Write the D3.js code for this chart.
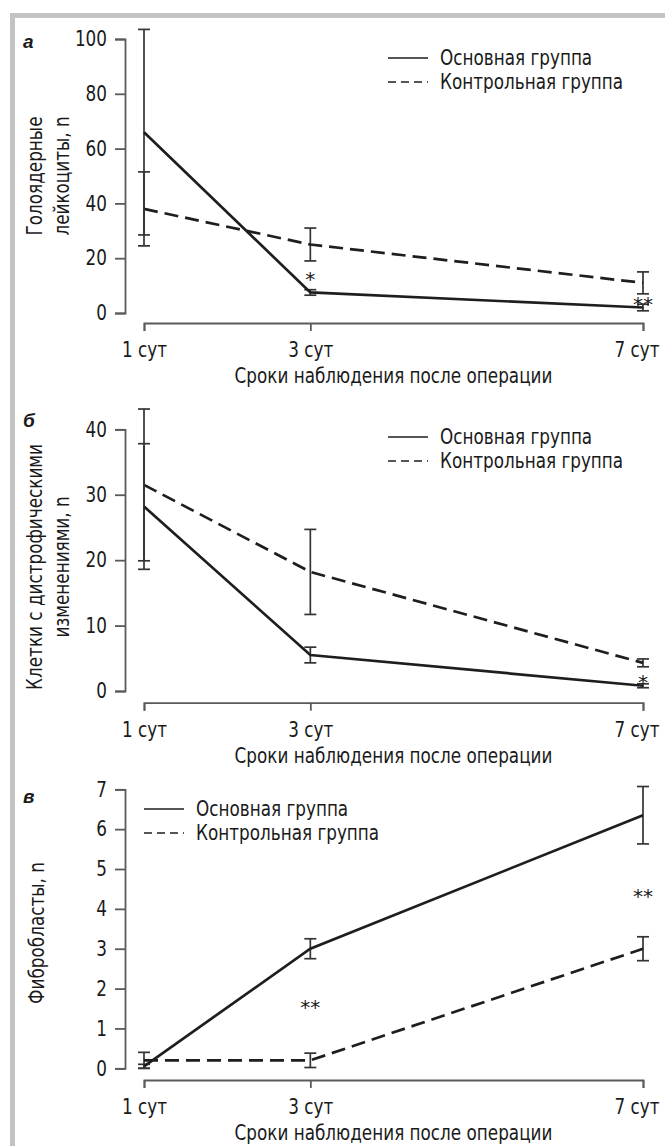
<!DOCTYPE html>
<html>
<head>
<meta charset="utf-8">
<script src="https://cdn.jsdelivr.net/npm/d3@7"></script>
<style>
  body { margin: 0; background: #fff; }
  svg { display: block; }
  text { font-family: 'Liberation Sans Narrow', 'DejaVu Sans Condensed', sans-serif; fill: #1a1a1a; }
</style>
</head>
<body>
<svg id="chart" width="665" height="1146"></svg>
<script>
// shared x categories
const days = [1, 3, 7];
const dayLabels = ['1 сут', '3 сут', '7 сут'];
const xTitle = 'Сроки наблюдения после операции';
const legendLabels = ['Основная группа', 'Контрольная группа'];

// panel а — голоядерные лейкоциты
const leukMain = [66, 7.5, 2];
const leukMainErr = [37.5, 1, 1.2];
const leukCtrl = [38, 25, 11];
const leukCtrlErr = [13.5, 6, 4];
const leukTicks = [0, 20, 40, 60, 80, 100];
const leukStars = [{ day: 3, v: 14, t: '*' }, { day: 7, v: 4.7, t: '**' }];

// panel б — клетки с дистрофическими изменениями
const dystMain = [28.2, 5.5, 0.8];
const dystMainErr = [9.6, 1.2, 0.3];
const dystCtrl = [31.5, 18.2, 4.3];
const dystCtrlErr = [11.6, 6.5, 0.6];
const dystTicks = [0, 10, 20, 30, 40];
const dystStars = [{ day: 7, v: 2, t: '*' }];

// panel в — фибробласты
const fibMain = [0.05, 3.0, 6.35];
const fibMainErr = [0.05, 0.25, 0.72];
const fibCtrl = [0.2, 0.2, 3.0];
const fibCtrlErr = [0.2, 0.18, 0.3];
const fibTicks = [0, 1, 2, 3, 4, 5, 6, 7];
const fibStars = [{ day: 3, v: 1.63, t: '**' }, { day: 7, v: 4.43, t: '**' }];

const panels = [
    {
        letter: 'а', letterY: 48, yTitle: ['Голоядерные', 'лейкоциты, n'], yTitleY: 176,
        ticks: leukTicks, yTop: 39, yBottom: 313, axisY: 323,
        main: leukMain, mainErr: leukMainErr, ctrl: leukCtrl, ctrlErr: leukCtrlErr,
        stars: leukStars, legend: { x: 388, y: 58 }
    },
    {
        letter: 'б', letterY: 427, yTitle: ['Клетки с дистрофическими', 'изменениями, n'], yTitleY: 567,
        ticks: dystTicks, yTop: 429.3, yBottom: 691, axisY: 702.7,
        main: dystMain, mainErr: dystMainErr, ctrl: dystCtrl, ctrlErr: dystCtrlErr,
        stars: dystStars, legend: { x: 388, y: 437 }
    },
    {
        letter: 'в', letterY: 803, yTitle: ['Фибробласты, n'], yTitleY: 933,
        ticks: fibTicks, yTop: 789.3, yBottom: 1068.3, axisY: 1080,
        main: fibMain, mainErr: fibMainErr, ctrl: fibCtrl, ctrlErr: fibCtrlErr,
        stars: fibStars, legend: { x: 144, y: 809 }
    }
];

const svg = d3.select('#chart');
const narrow = 0.89; // the original face is a condensed grotesque

// squeeze text horizontally so the wide fallback face matches the narrow original
function condense(sel) {
    sel.each(function () {
        const len = this.getComputedTextLength();
        d3.select(this).attr('textLength', len * narrow).attr('lengthAdjust', 'spacingAndGlyphs');
    });
}

// gray frame (top and left only)
svg.append('rect').attr('x', 10).attr('y', 13).attr('width', 655).attr('height', 5).attr('fill', '#c3c3c3');
svg.append('rect').attr('x', 10).attr('y', 13).attr('width', 5).attr('height', 1133).attr('fill', '#c3c3c3');

const x = d3.scaleLinear().domain([1, 7]).range([144, 643]);
const axisX = 125;
const dash = '14,7';

panels.forEach(p => {
    const g = svg.append('g');
    const y = d3.scaleLinear()
        .domain([0, d3.max(p.ticks)])
        .range([p.yBottom, p.yTop]);

    // y axis
    const ya = g.append('g')
        .attr('transform', `translate(${axisX},0)`)
        .call(d3.axisLeft(y).tickValues(p.ticks).tickFormat(d3.format('d')).tickSize(10).tickPadding(8));
    ya.selectAll('text').style('font-size', '21px').attr('fill', '#1a1a1a').call(condense);

    // x axis
    const xa = g.append('g')
        .attr('transform', `translate(0,${p.axisY})`)
        .call(d3.axisBottom(x).tickValues(days).tickFormat((d, i) => dayLabels[i]).tickSize(8).tickPadding(11));
    xa.selectAll('text').style('font-size', '21px').attr('fill', '#1a1a1a').call(condense);
    // last label would run past the page edge when centred
    xa.selectAll('.tick text').filter(d => d === 7).attr('text-anchor', 'end').attr('x', 16);

    [ya, xa].forEach(a => {
        a.select('.domain').attr('stroke', '#5a5a5a').attr('stroke-width', 1.8);
        a.selectAll('.tick line').attr('stroke', '#5a5a5a').attr('stroke-width', 1.8);
    });

    g.append('text')
        .attr('x', (x(1) + x(7)) / 2)
        .attr('y', p.axisY + 60)
        .attr('text-anchor', 'middle')
        .style('font-size', '21px')
        .text(xTitle)
        .call(condense);

    // y title
    const yt = g.append('text')
        .attr('transform', `translate(0,${p.yTitleY}) rotate(-90)`)
        .attr('text-anchor', 'middle')
        .style('font-size', '21px');
    const xs = p.yTitle.length === 2 ? [42, 69] : [44];
    p.yTitle.forEach((t, i) => {
        yt.append('tspan').attr('x', 0).attr('y', xs[i]).text(t).call(condense);
    });

    // panel letter
    g.append('text')
        .attr('x', 23)
        .attr('y', p.letterY)
        .style('font-family', "'Liberation Sans', Arial, sans-serif")
        .style('font-size', '19px')
        .style('font-weight', 'bold')
        .style('font-style', 'italic')
        .text(p.letter);

    const line = d3.line().x((d, i) => x(days[i])).y(d => y(d));

    const series = [
        { vals: p.ctrl, err: p.ctrlErr, dashed: true },
        { vals: p.main, err: p.mainErr, dashed: false }
    ];

    series.forEach(s => {
        // error bars
        const eb = g.append('g').attr('stroke', '#333').attr('stroke-width', 1.7);
        s.vals.forEach((v, i) => {
            const cx = x(days[i]);
            const lo = y(Math.max(0, v - s.err[i]));
            const hi = y(v + s.err[i]);
            eb.append('line').attr('x1', cx).attr('x2', cx).attr('y1', lo).attr('y2', hi);
            eb.append('line').attr('x1', cx - 6).attr('x2', cx + 6).attr('y1', lo).attr('y2', lo);
            eb.append('line').attr('x1', cx - 6).attr('x2', cx + 6).attr('y1', hi).attr('y2', hi);
        });
        g.append('path')
            .datum(s.vals)
            .attr('d', line)
            .attr('fill', 'none')
            .attr('stroke', '#1e1e1e')
            .attr('stroke-width', 2.7)
            .attr('stroke-dasharray', s.dashed ? dash : null);
    });

    // significance marks
    p.stars.forEach(s => {
        g.append('text')
            .attr('x', x(s.day))
            .attr('y', y(s.v) + 11)
            .attr('text-anchor', 'middle')
            .style('font-family', "'DejaVu Sans', sans-serif")
            .style('font-size', '20px')
            .attr('fill', '#333')
            .text(s.t);
    });

    // legend
    const lg = g.append('g').attr('transform', `translate(${p.legend.x},${p.legend.y})`);
    legendLabels.forEach((t, i) => {
        const ly = i * 24;
        lg.append('line')
            .attr('x1', 0).attr('x2', 40)
            .attr('y1', ly).attr('y2', ly)
            .attr('stroke', '#555')
            .attr('stroke-width', 1.8)
            .attr('stroke-dasharray', i === 1 ? '8,5' : null);
        lg.append('text')
            .attr('x', 52)
            .attr('y', ly + 7)
            .style('font-size', '21px')
            .text(t)
            .call(condense);
    });
});
</script>
</body>
</html>
